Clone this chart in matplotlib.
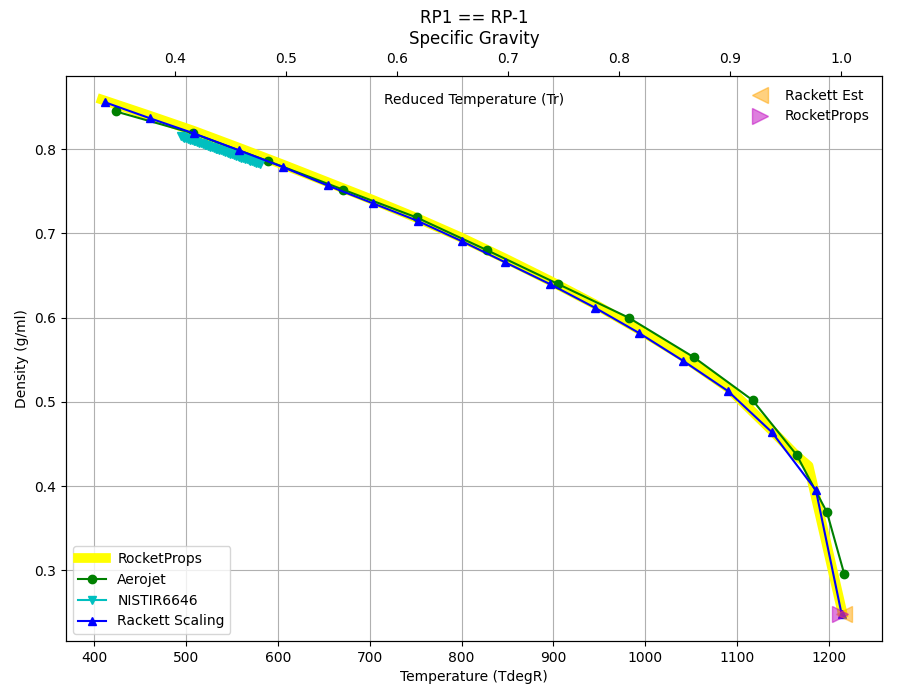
import numpy as np
import matplotlib
matplotlib.use("Agg")
import matplotlib.pyplot as plt

# RocketProps curve (degR, g/ml)
rp_T = [408, 460, 508, 557, 605, 654, 703, 752, 800, 848, 896, 945, 993,
        1041, 1090, 1138, 1165, 1178, 1215]
rp_rho = [0.859, 0.840, 0.822, 0.802, 0.782, 0.761, 0.740, 0.718, 0.695,
          0.670, 0.644, 0.616, 0.586, 0.554, 0.517, 0.466, 0.436, 0.424, 0.249]

# Aerojet data
aj_T = [423, 507, 589, 671, 751, 828, 905, 982, 1053, 1117, 1165, 1198, 1217]
aj_rho = [0.845, 0.819, 0.786, 0.752, 0.719, 0.680, 0.640, 0.600, 0.553,
          0.502, 0.437, 0.369, 0.295]

# NISTIR6646 data
nist_T = [494, 496, 498, 500, 502, 504, 506, 508, 510, 512, 514, 516, 518,
          520, 522, 524, 526, 528, 530, 532, 534, 536, 538, 540, 542, 544,
          546, 548, 550, 552, 554, 556, 558, 560, 562, 564, 566, 568, 570,
          572, 574, 576, 578, 580]
nist_rho = [0.8154, 0.8146, 0.8139, 0.8131, 0.8123, 0.8116, 0.8108, 0.8100,
            0.8093, 0.8085, 0.8078, 0.8070, 0.8062, 0.8055, 0.8047, 0.8039,
            0.8032, 0.8024, 0.8016, 0.8009, 0.8001, 0.7993, 0.7986, 0.7978,
            0.7970, 0.7963, 0.7955, 0.7947, 0.7940, 0.7932, 0.7925, 0.7917,
            0.7909, 0.7902, 0.7894, 0.7886, 0.7879, 0.7871, 0.7863, 0.7856,
            0.7848, 0.7840, 0.7833, 0.7825]

# Rackett scaling
rk_T = [411, 460, 508, 557, 605, 654, 703, 752, 800, 847, 896, 945, 993,
        1041, 1090, 1138, 1186, 1214]
rk_rho = [0.856, 0.837, 0.819, 0.799, 0.779, 0.757, 0.736, 0.715, 0.691,
          0.666, 0.640, 0.612, 0.582, 0.549, 0.513, 0.464, 0.395, 0.248]

# critical point estimates on reduced temperature axis
est_Tr = [1.003]
est_rho = [0.2477]
crit_Tr = [0.9995]
crit_rho = [0.2477]


def main():
    fig = plt.figure(figsize=(9, 7), dpi=100)
    ax = fig.add_subplot(111)
    fig.subplots_adjust(left=0.0733, right=0.98, top=0.8914, bottom=0.0843)

    ax.plot(rp_T, rp_rho, '-', color='yellow', linewidth=7, label='RocketProps')
    ax.plot(aj_T, aj_rho, 'g-o', label='Aerojet')
    ax.plot(nist_T, nist_rho, 'c-v', label='NISTIR6646')
    ax.plot(rk_T, rk_rho, 'b-^', label='Rackett Scaling')

    ax.set_xlim(369, 1258)
    ax.set_ylim(0.216, 0.887)
    ax.grid(True)
    ax.set_xlabel('Temperature (TdegR)')
    ax.set_ylabel('Density (g/ml)')
    ax.legend(loc='lower left')
    ax.text(0.5, 0.9575, 'Reduced Temperature (Tr)', transform=ax.transAxes,
            ha='center', va='center')

    ax2 = ax.twiny()
    ax2.plot(est_Tr, est_rho, '<', color='orange', alpha=0.5,
             markersize=12, label='Rackett Est')
    ax2.plot(crit_Tr, crit_rho, '>', color='m', alpha=0.5,
             markersize=12, label='RocketProps')
    ax2.set_xlim(0.3018, 1.0369)
    ax2.set_ylim(0.216, 0.887)
    ax2.legend(loc='upper right', frameon=False)
    ax2.set_title('RP1 == RP-1\nSpecific Gravity')

    fig.savefig('out.png', dpi=100)


if __name__ == "__main__":
    main()
